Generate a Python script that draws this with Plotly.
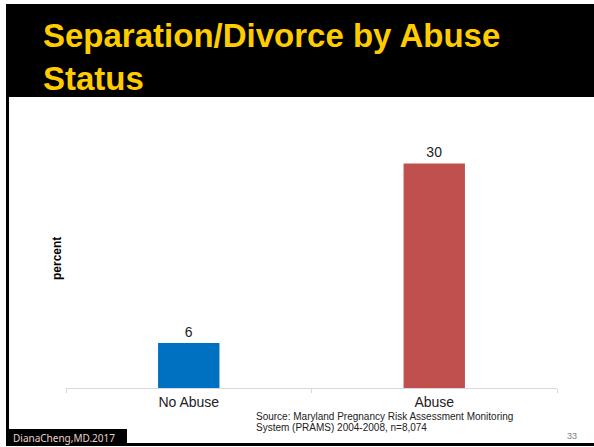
import plotly.graph_objects as go

categories = ["No Abuse", "Abuse"]
values = [6, 30]
bar_colors = ["#0070C0", "#C0504D"]
title_text = "<b>Separation/Divorce by Abuse<br>Status</b>"
y_label = "percent"
source_lines = ["Source: Maryland Pregnancy Risk Assessment Monitoring",
                "System (PRAMS) 2004-2008, n=8,074"]
footer_text = "DianaCheng,MD.2017"
page_number = "33"

W, H = 594, 447

def px(x):
    return x / W

def py(y):
    return 1 - y / H

fig = go.Figure()
fig.add_trace(go.Bar(
    x=categories, y=values,
    marker=dict(color=bar_colors, line=dict(width=0)),
    text=[str(v) for v in values],
    textposition="outside",
    textfont=dict(family="Liberation Sans, Arial", size=14, color="#222222"),
    cliponaxis=False,
    width=0.25,
))

shapes = [
    dict(type="rect", xref="paper", yref="paper", x0=px(6), x1=px(594), y0=py(97), y1=py(4),
         fillcolor="black", line=dict(width=0), layer="below"),
    dict(type="rect", xref="paper", yref="paper", x0=px(6), x1=px(9), y0=py(446), y1=py(4),
         fillcolor="black", line=dict(width=0), layer="below"),
    dict(type="rect", xref="paper", yref="paper", x0=px(6), x1=px(594), y0=py(446), y1=py(443),
         fillcolor="black", line=dict(width=0), layer="below"),
    dict(type="rect", xref="paper", yref="paper", x0=px(6), x1=px(127), y0=py(446), y1=py(429),
         fillcolor="black", line=dict(width=0), layer="below"),
]

annotations = [
    dict(text=title_text, x=px(41), y=py(37), xref="paper", yref="paper",
         xanchor="left", yanchor="middle", align="left", showarrow=False,
         font=dict(family="Liberation Sans, Arial", size=33, color="#FFCC00"),
         yshift=-20),
    dict(text="<b>" + y_label + "</b>", x=px(57), y=py(258), xref="paper", yref="paper",
         textangle=-90, showarrow=False, xanchor="center", yanchor="middle",
         font=dict(family="Liberation Sans, Arial", size=12, color="black")),
    dict(text=source_lines[0], x=px(254), y=py(416),
         xref="paper", yref="paper", xanchor="left", yanchor="middle", align="left",
         showarrow=False,
         font=dict(family="Liberation Sans, Arial", size=10, color="#222222")),
    dict(text=source_lines[1], x=px(254), y=py(427.5),
         xref="paper", yref="paper", xanchor="left", yanchor="middle", align="left",
         showarrow=False,
         font=dict(family="Liberation Sans, Arial", size=10, color="#222222")),
    dict(text=footer_text, x=px(11), y=py(437.5), xref="paper", yref="paper",
         xanchor="left", yanchor="middle", showarrow=False,
         font=dict(family="Noto Sans, Liberation Sans", size=10, color="#E8D0D0")),
    dict(text=page_number, x=px(572), y=py(436), xref="paper", yref="paper",
         xanchor="center", yanchor="middle", showarrow=False,
         font=dict(family="Liberation Sans, Arial", size=9, color="#808080")),
]

fig.update_layout(
    width=W, height=H,
    margin=dict(l=0, r=0, t=0, b=0),
    paper_bgcolor="white", plot_bgcolor="white",
    showlegend=False,
    shapes=shapes,
    annotations=annotations,
    xaxis=dict(
        domain=[px(66), px(557)],
        range=[-0.5, 1.5],
        showline=True, linecolor="#D9D9D9", linewidth=1,
        ticks="outside", tickson="boundaries", ticklen=4, tickcolor="#D9D9D9",
        tickfont=dict(family="Liberation Sans, Arial", size=14, color="#222222"),
        ticklabelstandoff=1,
        showgrid=False, zeroline=False,
        anchor="y",
    ),
    yaxis=dict(
        domain=[py(388), py(126)],
        range=[0, 35],
        visible=False,
        showgrid=False, zeroline=False,
    ),
)

fig.write_html("out.html")
